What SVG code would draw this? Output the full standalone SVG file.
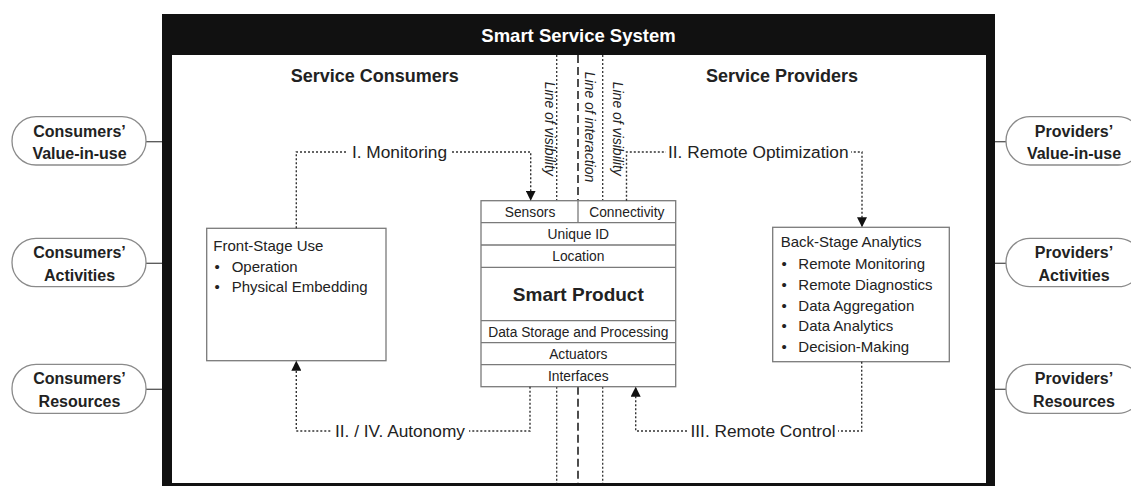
<svg xmlns="http://www.w3.org/2000/svg" width="1131" height="486" viewBox="0 0 1131 486">
  <style>
    .t { font-family: "Liberation Sans", Arial, sans-serif; fill: #222; }
    .b { font-weight: bold; }
    .box { fill: #fff; stroke: #7a7a7a; stroke-width: 1.3; }
    .pill { fill: #fff; stroke: #8a8a8a; stroke-width: 1.3; }
    .tie { stroke: #555; stroke-width: 1.3; fill: none; }
    .conn { fill: none; stroke: #333; stroke-width: 1.4; stroke-dasharray: 2 2; }
    .vis { fill: none; stroke: #333; stroke-width: 1.3; stroke-dasharray: 2 2; }
    .inter { fill: none; stroke: #222; stroke-width: 1.6; stroke-dasharray: 8 4; }
    .gap { fill: #fff; }
    .rot { font-style: italic; font-size: 14px; }
    .cell { font-size: 13.8px; text-anchor: middle; }
    .item { font-size: 15px; }
    .lbl { font-size: 17.3px; text-anchor: middle; }
    .side { font-size: 16px; text-anchor: middle; }
  </style>
  <defs>
    <marker id="arrow" viewBox="0 0 10 10" refX="10" refY="5" markerWidth="10" markerHeight="10" markerUnits="userSpaceOnUse" orient="auto">
      <path d="M0,0 L10,5 L0,10 Z" fill="#111"/>
    </marker>
  </defs>

  <rect width="1131" height="486" fill="#fff"/>

  <!-- system frame with title bar -->
  <g id="system-frame">
    <path d="M162,14 H995 V490 H162 Z M172,55 V483 H986 V55 Z" fill="#111" fill-rule="evenodd"/>
    <text class="t b" x="578.5" y="42" font-size="18.5" text-anchor="middle" style="fill:#fff">Smart Service System</text>
    <text class="t b" x="374.7" y="81.7" font-size="18" text-anchor="middle">Service Consumers</text>
    <text class="t b" x="782" y="81.7" font-size="18" text-anchor="middle">Service Providers</text>
  </g>

  <!-- boundary lines -->
  <g id="boundary-lines">
    <path class="vis" d="M556.7,55 V200.7 M556.7,386.7 V483"/>
    <path class="inter" d="M578,55 V200.7 M578,386.7 V483"/>
    <path class="vis" d="M602.7,55 V200.7 M602.7,386.7 V483"/>
    <text class="t rot" transform="translate(544.5,81.7) rotate(90)">Line of visibility</text>
    <text class="t rot" transform="translate(584.5,71.7) rotate(90)" font-size="14.5">Line of interaction</text>
    <text class="t rot" transform="translate(612.5,81.7) rotate(90)">Line of visibility</text>
  </g>

  <!-- consumer side -->
  <g id="consumers-value">
    <line class="tie" x1="146" y1="141.7" x2="162" y2="141.7"/>
    <rect class="pill" x="12" y="116.7" width="134" height="48.3" rx="24"/>
    <text class="t b side" x="79.5" y="136.7">Consumers’</text>
    <text class="t b side" x="79.5" y="159.3">Value-in-use</text>
  </g>
  <g id="consumers-activities">
    <line class="tie" x1="146" y1="263.3" x2="162" y2="263.3"/>
    <rect class="pill" x="12" y="238.3" width="134" height="48.4" rx="24"/>
    <text class="t b side" x="79.5" y="258.3">Consumers’</text>
    <text class="t b side" x="79.5" y="281">Activities</text>
  </g>
  <g id="consumers-resources">
    <line class="tie" x1="146" y1="389.3" x2="162" y2="389.3"/>
    <rect class="pill" x="12" y="364.3" width="134" height="49" rx="24"/>
    <text class="t b side" x="79.5" y="384.3">Consumers’</text>
    <text class="t b side" x="79.5" y="406.7">Resources</text>
  </g>

  <!-- provider side -->
  <g id="providers-value">
    <line class="tie" x1="995" y1="141.7" x2="1006" y2="141.7"/>
    <rect class="pill" x="1006" y="116.7" width="136" height="48.3" rx="24"/>
    <text class="t b side" x="1074" y="136.7">Providers’</text>
    <text class="t b side" x="1074" y="159.3">Value-in-use</text>
  </g>
  <g id="providers-activities">
    <line class="tie" x1="995" y1="263.3" x2="1006" y2="263.3"/>
    <rect class="pill" x="1006" y="238.3" width="136" height="48.4" rx="24"/>
    <text class="t b side" x="1074" y="258.3">Providers’</text>
    <text class="t b side" x="1074" y="281">Activities</text>
  </g>
  <g id="providers-resources">
    <line class="tie" x1="995" y1="389.3" x2="1006" y2="389.3"/>
    <rect class="pill" x="1006" y="364.3" width="136" height="49" rx="24"/>
    <text class="t b side" x="1074" y="384.3">Providers’</text>
    <text class="t b side" x="1074" y="406.7">Resources</text>
  </g>

  <!-- front-stage use -->
  <g id="front-stage">
    <rect class="box" x="206.7" y="228.3" width="179.3" height="132.4"/>
    <text class="t item" x="213.3" y="250.7">Front-Stage Use</text>
    <text class="t item" y="272"><tspan x="214.5">•</tspan><tspan x="231.7">Operation</tspan></text>
    <text class="t item" y="291.7"><tspan x="214.5">•</tspan><tspan x="231.7">Physical Embedding</tspan></text>
  </g>

  <!-- smart product -->
  <g id="smart-product">
    <rect class="box" x="481" y="200.7" width="194.7" height="186"/>
    <path class="box" d="M578,200.7 V222.7 M481,222.7 H675.7 M481,245 H675.7 M481,267.3 H675.7 M481,320.7 H675.7 M481,342.7 H675.7 M481,364.7 H675.7"/>
    <text class="t cell" x="530" y="216.7">Sensors</text>
    <text class="t cell" x="626.8" y="216.7">Connectivity</text>
    <text class="t cell" x="578.3" y="238.7">Unique ID</text>
    <text class="t cell" x="578.3" y="261">Location</text>
    <text class="t b" x="578.3" y="301" font-size="19" text-anchor="middle">Smart Product</text>
    <text class="t cell" x="578.3" y="336.7">Data Storage and Processing</text>
    <text class="t cell" x="578.3" y="358.7">Actuators</text>
    <text class="t cell" x="578.3" y="380.7">Interfaces</text>
  </g>

  <!-- back-stage analytics -->
  <g id="back-stage">
    <rect class="box" x="772.7" y="227.3" width="176.6" height="134.4"/>
    <text class="t item" x="780.7" y="247.3">Back-Stage Analytics</text>
    <text class="t item" y="269.3"><tspan x="781.5">•</tspan><tspan x="798.3">Remote Monitoring</tspan></text>
    <text class="t item" y="290"><tspan x="781.5">•</tspan><tspan x="798.3">Remote Diagnostics</tspan></text>
    <text class="t item" y="310.7"><tspan x="781.5">•</tspan><tspan x="798.3">Data Aggregation</tspan></text>
    <text class="t item" y="331"><tspan x="781.5">•</tspan><tspan x="798.3">Data Analytics</tspan></text>
    <text class="t item" y="351.7"><tspan x="781.5">•</tspan><tspan x="798.3">Decision-Making</tspan></text>
  </g>

  <!-- service flows -->
  <g id="connectors">
    <path class="conn" d="M296.3,228.3 V152 H530.7 V200.7" marker-end="url(#arrow)"/>
    <rect class="gap" x="348" y="144" width="103" height="17"/>
    <text class="t lbl" x="399.5" y="158">I. Monitoring</text>

    <path class="conn" d="M626.5,200.7 V152 H862 V227.3" marker-end="url(#arrow)"/>
    <rect class="gap" x="666" y="144" width="185" height="17"/>
    <text class="t lbl" x="758.3" y="158">II. Remote Optimization</text>

    <path class="conn" d="M861.7,361.7 V431 H635.7 V386.7" marker-end="url(#arrow)"/>
    <rect class="gap" x="688" y="423" width="150" height="17"/>
    <text class="t lbl" x="763" y="437">III. Remote Control</text>

    <path class="conn" d="M530,386.7 V431 H296.3 V360.7" marker-end="url(#arrow)"/>
    <rect class="gap" x="331" y="423" width="138" height="17"/>
    <text class="t lbl" x="400" y="437">II. / IV. Autonomy</text>
  </g>
</svg>
